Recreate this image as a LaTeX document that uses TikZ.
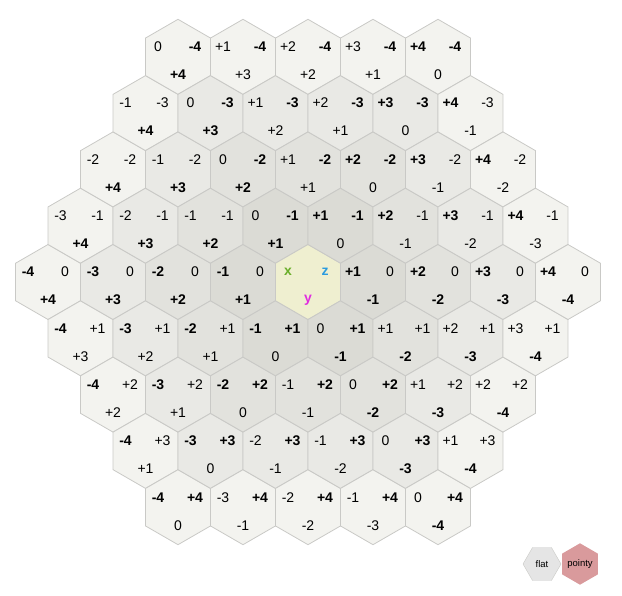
\documentclass[tikz,border=0pt]{standalone}
\usepackage{fontspec}
\setmainfont{Liberation Sans}
\usetikzlibrary{shapes.geometric}

\definecolor{ring0}{HTML}{EFEFD0}
\definecolor{ring1}{HTML}{DBDBD5}
\definecolor{ring2}{HTML}{E2E2DD}
\definecolor{ring3}{HTML}{E9E9E5}
\definecolor{ring4}{HTML}{F3F3EF}
\definecolor{hexline}{HTML}{C9C9C6}
\definecolor{xcol}{HTML}{6AAE2A}
\definecolor{ycol}{HTML}{E02DDF}
\definecolor{zcol}{HTML}{2A9BDF}
\definecolor{flatbg}{HTML}{E5E5E5}
\definecolor{pointybg}{HTML}{D99A9C}

% label of one cube coordinate, bold when it equals the distance
\newcommand\cubelabel[2]{%
  \ifnum#1>0 \def\lbltext{+#1}\else\def\lbltext{#1}\fi
  \pgfmathtruncatemacro\absval{abs(#1)}%
  \ifnum\absval=#2 \textbf{\lbltext}\else\lbltext\fi}

\tikzset{
  hexcell/.style={draw=hexline, line width=0.8pt},
  coordlbl/.style={inner sep=0pt, font=\fontsize{14}{16}\selectfont},
  letterlbl/.style={coordlbl, font=\fontsize{14}{16}\selectfont\bfseries},
  button/.style={regular polygon, regular polygon sides=6, minimum size=38pt,
    inner sep=0pt, font=\fontsize{9.5}{11}\selectfont},
}

\begin{document}
\begin{tikzpicture}[x=1pt,y=-1pt]
\useasboundingbox (0,0) rectangle (622,596);

%grid
\foreach \q in {-4,...,4}{
  \foreach \r in {-4,...,4}{
    \pgfmathtruncatemacro\s{-\q-\r}
    \ifnum\s<-4 \else\ifnum\s>4 \else
      \pgfmathtruncatemacro\d{max(abs(\q),abs(\r),abs(\s))}
      \pgfmathsetmacro\cx{308+65*(\q+\r/2)}
      \pgfmathsetmacro\cy{282+56.3*\r}
      \coordinate (h\q\r) at (\cx,\cy);
      \draw [hexcell, fill=ring\d] (h\q\r) +(30:37.5) -- +(90:37.5) -- +(150:37.5)
        -- +(210:37.5) -- +(270:37.5) -- +(330:37.5) -- cycle;
      \ifnum\d=0
        \node [letterlbl, text=xcol] (h\q\r x) at (\cx-20,\cy-10) {x};
        \node [letterlbl, text=zcol] (h\q\r z) at (\cx+17,\cy-10) {z};
        \node [letterlbl, text=ycol] (h\q\r y) at (\cx,\cy+18) {y};
      \else
        \node [coordlbl] (h\q\r x) at (\cx-20,\cy-10) {\cubelabel{\q}{\d}};
        \node [coordlbl] (h\q\r z) at (\cx+17,\cy-10) {\cubelabel{\r}{\d}};
        \node [coordlbl] (h\q\r y) at (\cx,\cy+18) {\cubelabel{\s}{\d}};
      \fi
    \fi\fi
  }
}

%buttons
\node [button, draw=hexline, fill=flatbg] (flat) at (542,564) {flat};
\node [button, shape border rotate=30, fill=pointybg] (pointy) at (580,564) {pointy};
\end{tikzpicture}
\end{document}
